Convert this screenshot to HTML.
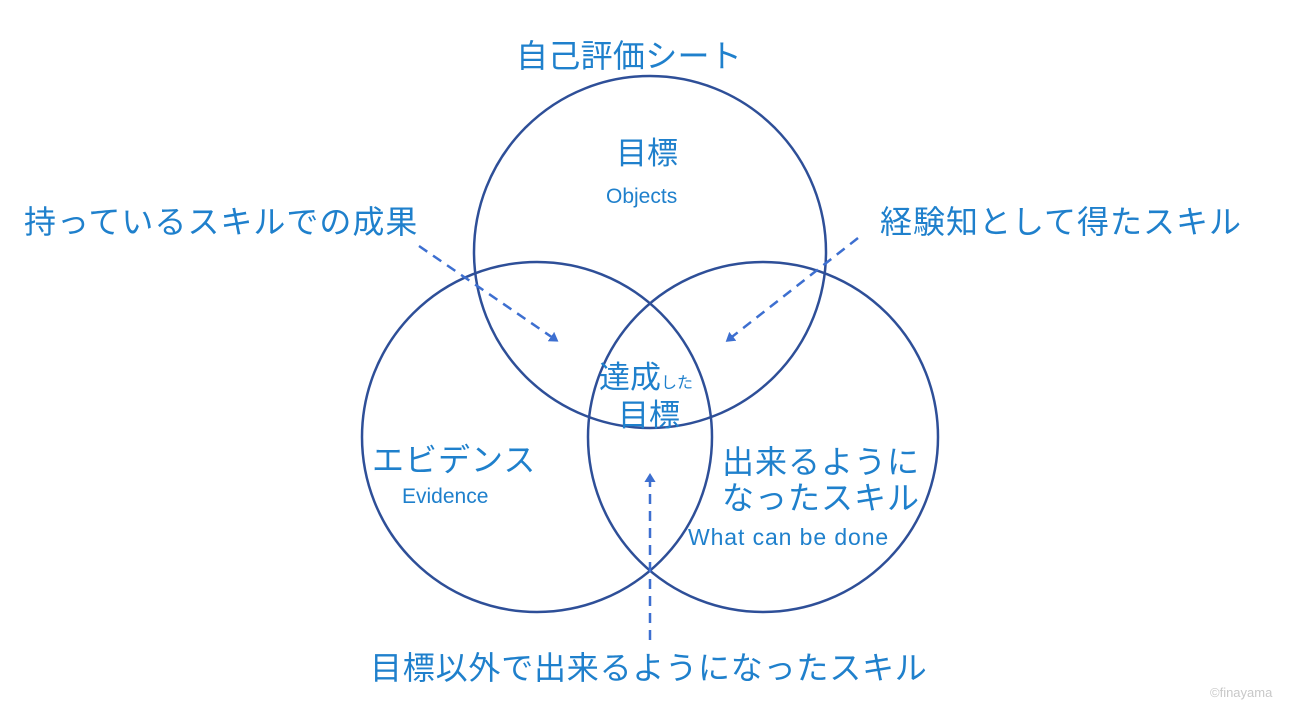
<!DOCTYPE html>
<html><head><meta charset="utf-8"><style>
html,body{margin:0;padding:0;background:#fff;}
body{width:1300px;height:706px;position:relative;overflow:hidden;font-family:"Liberation Sans","Noto Sans CJK JP",sans-serif;color:#1f80cc;}
.t{position:absolute;white-space:nowrap;line-height:1;}
.j{letter-spacing:1px;}
</style></head><body>
<svg width="1300" height="706" style="position:absolute;left:0;top:0">
<defs><marker id="a" markerWidth="12" markerHeight="12" refX="6" refY="6" orient="auto" markerUnits="userSpaceOnUse"><path d="M0,1 L8,6 L0,11 Z" fill="#3d6fd0" stroke="#3d6fd0" stroke-width="1"/></marker></defs>
<g fill="none" stroke="#2e4f98" stroke-width="2.5">
<circle cx="650" cy="252" r="176"/>
<circle cx="537" cy="437" r="175"/>
<circle cx="763" cy="437" r="175"/>
</g>
<g stroke="#3d6fd0" stroke-width="2.5" stroke-dasharray="10,7" fill="none">
<line x1="419" y1="246" x2="556" y2="340" marker-end="url(#a)"/>
<line x1="858" y1="238" x2="728" y2="340" marker-end="url(#a)"/>
<line x1="650" y1="640" x2="650" y2="476" marker-end="url(#a)"/>
</g>
</svg>
<div class="t" style="left:516px;top:40px;font-size:32px;letter-spacing:0.3px">自己評価シート</div>
<div class="t" style="left:616px;top:138px;font-size:31px">目標</div>
<div class="t" style="left:606px;top:186px;font-size:21px">Objects</div>
<div class="t j" style="left:24px;top:206px;font-size:32px">持っているスキルでの成果</div>
<div class="t j" style="left:880px;top:206px;font-size:32px">経験知として得たスキル</div>
<div class="t" style="left:599px;top:362px;font-size:31px">達成<span style="font-size:16px">した</span></div>
<div class="t" style="left:618px;top:400px;font-size:31px">目標</div>
<div class="t j" style="left:372px;top:444px;font-size:32px">エビデンス</div>
<div class="t" style="left:402px;top:486px;font-size:21px">Evidence</div>
<div class="t j" style="left:722px;top:446px;font-size:32px">出来るように</div>
<div class="t j" style="left:722px;top:482px;font-size:32px">なったスキル</div>
<div class="t" style="left:688px;top:526px;font-size:23px;letter-spacing:0.9px">What can be done</div>
<div class="t" style="left:370px;top:652px;font-size:32px;letter-spacing:0.8px">目標以外で出来るようになったスキル</div>
<div class="t" style="left:1210px;top:686px;font-size:13px;color:#c8c8c8">©finayama</div>
</body></html>
